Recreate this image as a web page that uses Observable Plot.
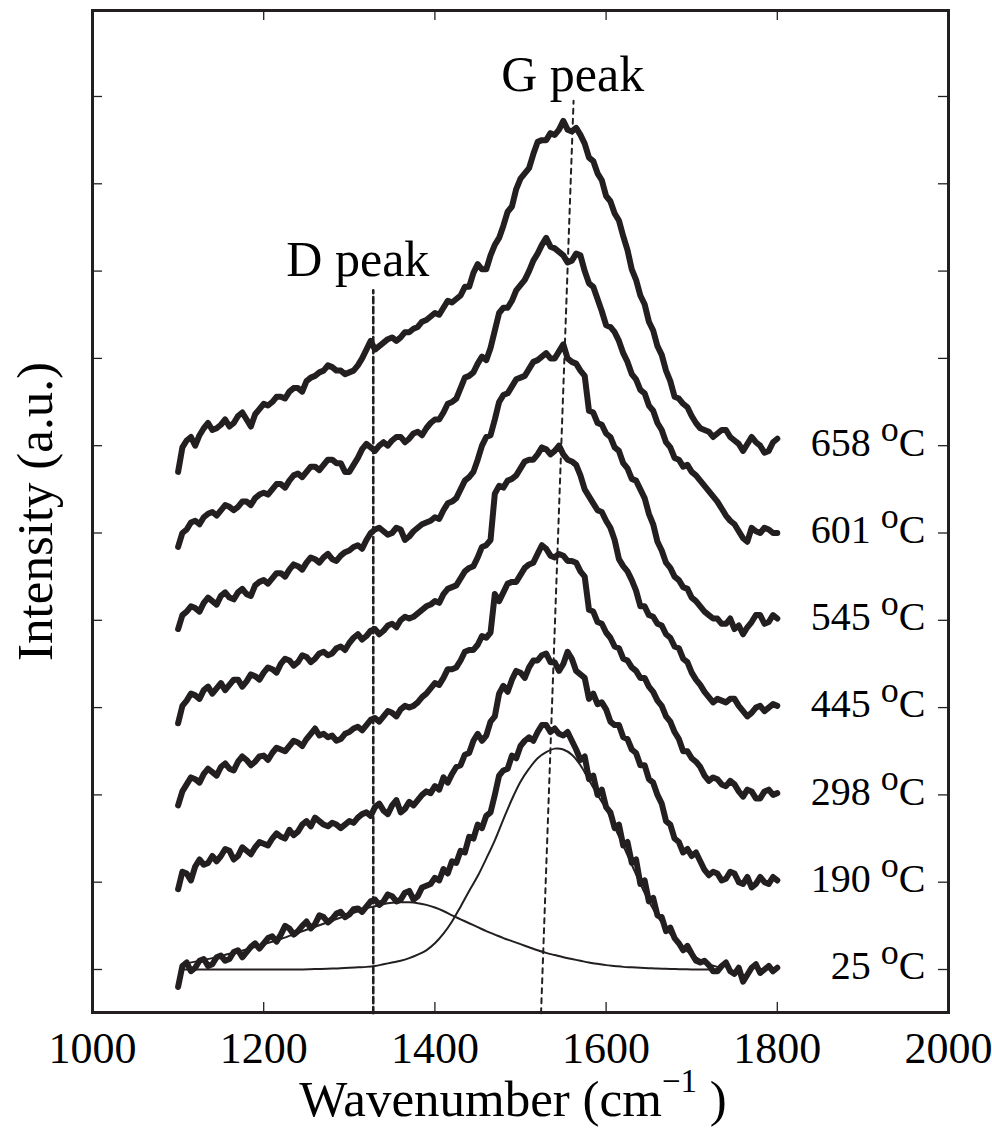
<!DOCTYPE html>
<html><head><meta charset="utf-8">
<script src="https://cdn.jsdelivr.net/npm/d3@7"></script>
<script src="https://cdn.jsdelivr.net/npm/@observablehq/plot@0.6"></script>
<style>body{margin:0;background:#fff} svg{display:block}</style>
</head><body><div id="chart"></div>
<script>
// ---------- data ----------
const wavenumbers = [
  1100,1105,1110,1115,1120,1125,1130,1135,1140,1145,1150,1155,1160,1165,1170,1175,1180,1185,1190,1195,
  1200,1205,1210,1215,1220,1225,1230,1235,1240,1245,1250,1255,1260,1265,1270,1275,1280,1285,1290,1295,
  1300,1305,1310,1315,1320,1325,1330,1335,1340,1345,1350,1355,1360,1365,1370,1375,1380,1385,1390,1395,
  1400,1405,1410,1415,1420,1425,1430,1435,1440,1445,1450,1455,1460,1465,1470,1475,1480,1485,1490,1495,
  1500,1505,1510,1515,1520,1525,1530,1535,1540,1545,1550,1555,1560,1565,1570,1575,1580,1585,1590,1595,
  1600,1605,1610,1615,1620,1625,1630,1635,1640,1645,1650,1655,1660,1665,1670,1675,1680,1685,1690,1695,
  1700,1705,1710,1715,1720,1725,1730,1735,1740,1745,1750,1755,1760,1765,1770,1775,1780,1785,1790,1795,
  1800];
const temperatures = ["25","190","298","445","545","601","658"];
const offsets = [0,1,2,3,4,5,6];
const s25 = [
  -0.2,0.04,0.08,-0.02,0.02,0.1,0.12,0.04,0.06,0.14,0.16,0.1,0.12,0.2,0.22,0.14,0.2,0.26,0.3,0.24,
  0.3,0.36,0.38,0.32,0.4,0.5,0.47,0.4,0.44,0.5,0.55,0.47,0.52,0.62,0.6,0.54,0.58,0.64,0.66,0.6,
  0.63,0.69,0.7,0.66,0.72,0.78,0.8,0.74,0.78,0.86,0.84,0.78,0.8,0.88,0.9,0.8,0.84,0.94,0.96,0.98,
  1.05,1.02,1.15,1.1,1.24,1.22,1.36,1.34,1.52,1.5,1.66,1.62,1.76,1.8,2.0,2.22,2.28,2.3,2.45,2.42,
  2.56,2.62,2.66,2.62,2.72,2.8,2.8,2.72,2.76,2.7,2.68,2.72,2.62,2.52,2.4,2.44,2.18,2.22,2.0,2.06,
  1.86,1.8,1.62,1.66,1.42,1.46,1.22,1.26,0.98,1.02,0.78,0.82,0.62,0.6,0.44,0.48,0.36,0.3,0.22,0.27,
  0.18,0.1,0.08,0.1,0.05,-0.02,-0.02,0.04,0.08,-0.02,-0.05,0.02,-0.14,-0.06,0.02,0.06,-0.04,0.0,0.04,-0.02,
  0.02];
const s190 = [
  -0.08,0.12,0.1,0.02,0.18,0.26,0.2,0.22,0.3,0.24,0.3,0.38,0.36,0.26,0.3,0.4,0.36,0.32,0.4,0.46,
  0.44,0.42,0.5,0.56,0.52,0.5,0.6,0.54,0.58,0.66,0.7,0.64,0.74,0.7,0.66,0.64,0.68,0.66,0.62,0.66,
  0.7,0.68,0.74,0.78,0.8,0.76,0.86,0.9,0.82,0.78,0.88,0.94,0.8,0.84,0.92,0.88,0.94,1.0,1.04,1.02,
  1.1,1.06,1.2,1.14,1.24,1.32,1.34,1.46,1.48,1.62,1.7,1.62,1.68,1.84,1.9,2.16,2.25,2.18,2.32,2.42,
  2.4,2.34,2.46,2.54,2.54,2.6,2.62,2.52,2.52,2.42,2.5,2.64,2.56,2.42,2.38,2.34,2.1,2.16,2.04,2.06,
  1.98,1.84,1.8,1.8,1.66,1.64,1.52,1.48,1.34,1.34,1.18,1.14,1.0,0.9,0.7,0.66,0.5,0.46,0.34,0.38,
  0.3,0.34,0.24,0.14,0.08,0.12,0.1,0.02,0.04,0.12,0.1,0.0,-0.02,0.06,-0.06,-0.02,0.06,0.0,-0.02,0.06,
  0.02];
const s298 = [
  -0.12,0.04,0.12,0.2,0.18,0.14,0.24,0.3,0.26,0.22,0.32,0.36,0.3,0.28,0.38,0.44,0.4,0.34,0.38,0.44,
  0.45,0.4,0.48,0.54,0.52,0.5,0.56,0.62,0.6,0.56,0.64,0.7,0.76,0.68,0.7,0.66,0.68,0.62,0.64,0.7,
  0.72,0.76,0.78,0.74,0.8,0.86,0.88,0.84,0.9,0.96,0.94,0.9,0.98,1.02,1.0,1.02,1.06,1.12,1.16,1.22,
  1.28,1.26,1.34,1.44,1.44,1.46,1.54,1.64,1.66,1.66,1.72,1.82,1.8,1.86,2.3,2.22,2.32,2.42,2.44,2.44,
  2.52,2.6,2.64,2.66,2.76,2.86,2.82,2.74,2.72,2.76,2.74,2.68,2.68,2.66,2.56,2.5,2.12,2.1,1.98,1.96,
  1.86,1.8,1.7,1.68,1.56,1.54,1.46,1.42,1.34,1.34,1.24,1.18,1.08,1.02,0.9,0.84,0.72,0.64,0.5,0.5,
  0.42,0.38,0.32,0.22,0.16,0.2,0.18,0.12,0.1,0.16,0.12,0.04,-0.02,0.06,0.04,-0.04,-0.04,0.04,0.06,0.0,
  0.02];
const s445 = [
  -0.18,0.02,0.08,0.16,0.14,0.1,0.2,0.24,0.16,0.22,0.28,0.2,0.26,0.32,0.32,0.24,0.3,0.38,0.36,0.32,
  0.4,0.46,0.44,0.4,0.5,0.56,0.54,0.48,0.52,0.6,0.58,0.52,0.56,0.62,0.64,0.6,0.62,0.68,0.7,0.66,
  0.74,0.8,0.84,0.78,0.82,0.88,0.9,0.84,0.88,0.94,0.96,0.92,1.0,1.04,1.02,1.04,1.08,1.12,1.16,1.18,
  1.22,1.2,1.3,1.36,1.38,1.4,1.48,1.56,1.6,1.62,1.72,1.84,1.86,1.92,2.45,2.54,2.52,2.6,2.62,2.66,
  2.74,2.82,2.84,2.84,2.9,2.98,2.96,2.9,2.94,3.0,2.9,2.84,2.82,2.78,2.66,2.5,2.42,2.34,2.26,2.24,
  2.14,2.06,1.92,1.7,1.62,1.56,1.46,1.34,1.16,1.16,1.06,1.04,0.96,0.94,0.84,0.8,0.7,0.68,0.56,0.52,
  0.4,0.32,0.26,0.18,0.12,0.06,0.1,0.08,0.06,0.1,0.1,0.02,-0.04,-0.1,-0.06,0.0,0.02,-0.04,0.0,0.04,
  0.02];
const s545 = [
  -0.1,0.06,0.1,0.16,0.14,0.1,0.2,0.26,0.22,0.18,0.28,0.32,0.26,0.24,0.32,0.36,0.3,0.28,0.4,0.44,
  0.46,0.42,0.48,0.54,0.54,0.5,0.58,0.64,0.62,0.58,0.66,0.72,0.7,0.66,0.72,0.76,0.7,0.68,0.74,0.78,
  0.8,0.84,0.86,0.82,0.92,1.0,1.04,1.06,1.02,0.98,1.0,1.06,1.04,0.92,0.96,1.02,1.06,1.1,1.12,1.14,
  1.18,1.16,1.26,1.34,1.36,1.4,1.5,1.6,1.64,1.7,1.84,2.0,2.1,2.12,2.3,2.5,2.58,2.6,2.68,2.76,
  2.78,2.8,2.88,2.96,2.98,3.02,3.06,3.0,3.0,3.08,3.16,3.0,2.96,2.94,2.86,2.8,2.4,2.38,2.26,2.24,
  2.14,2.1,1.98,1.94,1.8,1.74,1.62,1.6,1.5,1.4,1.22,1.1,0.9,0.8,0.66,0.6,0.5,0.46,0.38,0.36,
  0.26,0.22,0.16,0.1,0.06,0.02,0.02,-0.04,-0.04,0.02,-0.1,-0.06,-0.16,-0.08,-0.02,0.06,0.06,-0.04,-0.02,0.06,
  0.02];
const s601 = [
  -0.16,0.0,0.04,0.12,0.14,0.1,0.18,0.22,0.24,0.2,0.26,0.32,0.3,0.26,0.3,0.36,0.36,0.32,0.4,0.44,
  0.46,0.44,0.5,0.56,0.56,0.52,0.6,0.66,0.68,0.64,0.7,0.76,0.76,0.72,0.78,0.84,0.84,0.8,0.8,0.7,
  0.7,0.78,0.86,0.96,1.02,0.98,0.94,1.0,1.04,1.0,1.06,1.1,1.1,1.04,1.08,1.14,1.16,1.12,1.2,1.26,
  1.3,1.3,1.38,1.48,1.5,1.54,1.66,1.78,1.8,1.84,1.94,2.02,1.98,2.12,2.32,2.52,2.58,2.58,2.66,2.78,
  2.84,2.9,3.0,3.12,3.2,3.3,3.38,3.28,3.26,3.22,3.18,3.1,3.12,3.2,3.18,3.0,2.86,2.82,2.68,2.54,
  2.38,2.36,2.3,2.2,2.06,1.96,1.82,1.76,1.64,1.6,1.46,1.4,1.26,1.18,1.04,0.98,0.86,0.84,0.76,0.78,
  0.7,0.66,0.6,0.54,0.48,0.42,0.36,0.28,0.2,0.14,0.1,0.02,-0.06,-0.1,0.06,0.02,0.0,0.06,0.04,0.0,
  0.0];
const s658 = [
  -0.3,-0.02,0.06,0.1,0.0,0.12,0.2,0.26,0.18,0.2,0.24,0.3,0.22,0.26,0.34,0.38,0.3,0.22,0.36,0.42,
  0.48,0.46,0.5,0.56,0.56,0.54,0.62,0.66,0.66,0.62,0.74,0.78,0.8,0.84,0.86,0.92,0.9,0.86,0.86,0.82,
  0.84,0.86,0.92,1.0,1.1,1.2,1.1,1.14,1.18,1.22,1.24,1.2,1.24,1.3,1.3,1.34,1.36,1.42,1.44,1.48,
  1.52,1.5,1.58,1.66,1.64,1.68,1.72,1.82,1.82,1.98,2.08,2.02,2.02,2.18,2.3,2.38,2.52,2.68,2.74,2.94,
  3.06,3.12,3.18,3.34,3.48,3.5,3.5,3.58,3.56,3.62,3.72,3.62,3.6,3.64,3.56,3.46,3.3,3.26,3.12,3.04,
  2.86,2.8,2.66,2.58,2.4,2.24,2.02,1.9,1.72,1.62,1.42,1.32,1.14,1.04,0.86,0.74,0.56,0.54,0.48,0.44,
  0.34,0.26,0.2,0.18,0.16,0.1,0.14,0.18,0.18,0.1,0.06,0.02,-0.06,0.02,0.1,0.04,0.0,-0.08,-0.06,0.04,
  0.08];
const spectra = [s25, s190, s298, s445, s545, s601, s658];

// fitted D and G components of the 25 oC spectrum
const fitWavenumbers = [1105,1120,1140,1160,1180,1200,1220,1240,1260,1280,
  1300,1310,1320,1330,1340,1350,1360,1370,1380,1390,1400,1410,1420,1430,1440,1450,1460,1470,1480,1490,
  1500,1510,1520,1530,1540,1550,1560,1570,1580,1590,1600,1610,1620,1630,1640,1650,1660,1670,1680,1690,
  1700,1710,1720,1730];
const fitD = [0.06,0.09,0.13,0.18,0.23,0.29,0.35,0.42,0.49,0.56,
  0.63,0.665,0.7,0.725,0.75,0.765,0.77,0.77,0.76,0.74,0.71,0.67,0.62,0.575,0.53,0.485,0.44,0.4,0.36,0.325,
  0.29,0.255,0.22,0.19,0.165,0.14,0.12,0.1,0.08,0.065,0.05,0.04,0.03,0.025,0.02,0.015,0.01,0.008,0.005,0.003,
  0,0,0,0];
const fitG = [0,0,0,0,0,0,0,0,0.005,0.01,
  0.02,0.025,0.03,0.04,0.06,0.08,0.1,0.13,0.17,0.22,0.3,0.41,0.55,0.72,0.9,1.07,1.27,1.48,1.72,1.95,
  2.15,2.3,2.42,2.49,2.53,2.52,2.46,2.34,2.17,2.0,1.84,1.63,1.42,1.2,0.98,0.78,0.61,0.47,0.35,0.25,
  0.17,0.11,0.06,0.03];

// peak guide lines and their labels
const dPeakX = [1328, 1328], dPeakY = [-0.5, 7.78];
const gPeakX = [1524, 1562], gPeakY = [-0.5, 9.95];
const peakLabels = [{text: "D peak", x: 1310, y: 8.13}, {text: "G peak", x: 1561, y: 10.25}];

const xTicks = [1000, 1200, 1400, 1600, 1800, 2000];
const yTicks = [0,1,2,3,4,5,6,7,8,9,10];

// ---------- build tables ----------
const rows = [];
spectra.forEach((s, i) => s.forEach((v, j) => rows.push({t: temperatures[i], w: wavenumbers[j], y: offsets[i] + v})));
const fitRows = [];
fitWavenumbers.forEach((w, j) => { fitRows.push({c: "D", w, y: offsets[0] + fitD[j]}); fitRows.push({c: "G", w, y: offsets[0] + fitG[j]}); });
const dLine = dPeakX.map((x, i) => ({x, y: dPeakY[i]}));
const gLine = gPeakX.map((x, i) => ({x, y: gPeakY[i]}));
const tempLabels = temperatures.map((t, i) => ({t, y: offsets[i]}));

const INK = "#231f20";
const FONT = "Liberation Serif, Times New Roman, serif";
const W = 992, H = 1139, ML = 92, MR = 44, MT = 10, MB = 127;
const PW = W - ML - MR, PH = H - MT - MB;

const chart = Plot.plot({
  width: W, height: H,
  marginLeft: ML, marginRight: MR, marginTop: MT, marginBottom: MB,
  style: {fontFamily: FONT, color: INK, background: "#fff"},
  x: {domain: [1000, 2000]},
  y: {domain: [-0.4926, 10.985], axis: null},
  marks: [
    Plot.ruleX(xTicks, {x: d => d, insetTop: PH - 10, stroke: INK, strokeWidth: 1.3}),
    Plot.ruleX(xTicks, {x: d => d, insetBottom: PH - 10, stroke: INK, strokeWidth: 1.3}),
    Plot.ruleY(yTicks, {y: d => d, insetRight: PW - 10, stroke: INK, strokeWidth: 1.3}),
    Plot.ruleY(yTicks, {y: d => d, insetLeft: PW - 10, stroke: INK, strokeWidth: 1.3}),
    Plot.axisX({ticks: xTicks, tickSize: 0, tickPadding: 19, tickFormat: d => String(d), fontSize: 44, fontFamily: FONT, fill: "#000"}),
    Plot.line(fitRows, {x: "w", y: "y", z: "c", stroke: INK, strokeWidth: 2, curve: "catmull-rom"}),
    Plot.line(dLine, {x: "x", y: "y", stroke: INK, strokeWidth: 2.6, strokeDasharray: "6,4"}),
    Plot.line(gLine, {x: "x", y: "y", stroke: INK, strokeWidth: 2, strokeDasharray: "5,5"}),
    Plot.line(rows, {x: "w", y: "y", z: "t", stroke: INK, strokeWidth: 6, strokeLinejoin: "round", strokeLinecap: "round"}),
    Plot.text(tempLabels, {y: "y", frameAnchor: "right", dx: -23, dy: -3, textAnchor: "end", text: d => `${d.t} oC`, fontSize: 40, fontFamily: FONT, fill: "#000"}),
    Plot.text(peakLabels, {x: "x", y: "y", text: "text", fontSize: 50, fontFamily: FONT, fill: "#000"}),
    Plot.text(["Intensity (a.u.)"], {frameAnchor: "left", dx: -57, rotate: -90, textAnchor: "middle", fontSize: 51, fontFamily: FONT, fill: "#000"}),
    Plot.frame({stroke: INK, strokeWidth: 3})
  ]
});
document.getElementById("chart").appendChild(chart);

const svg = d3.select(chart);
// superscript "o" in the temperature labels
svg.selectAll("text").each(function() {
  const el = d3.select(this);
  const m = /^(\d+) oC$/.exec(this.textContent);
  if (!m) return;
  el.text(null);
  el.append("tspan").text(m[1] + " ");
  el.append("tspan").attr("font-size", 36).attr("dy", -15).text("o");
  el.append("tspan").attr("dy", 15).text("C");
});

// x axis title with superscript
const xt = svg.append("text")
  .attr("x", 513).attr("y", 1116)
  .attr("text-anchor", "middle")
  .attr("font-family", FONT)
  .attr("font-size", 51).attr("fill", "#000");
xt.append("tspan").text("Wavenumber (cm");
xt.append("tspan").attr("font-size", 33).attr("dy", -24).text("\u22121");
xt.append("tspan").attr("dy", 24).text(" )");

svg.selectAll("text").attr("font-family", FONT);
</script>
</body></html>
